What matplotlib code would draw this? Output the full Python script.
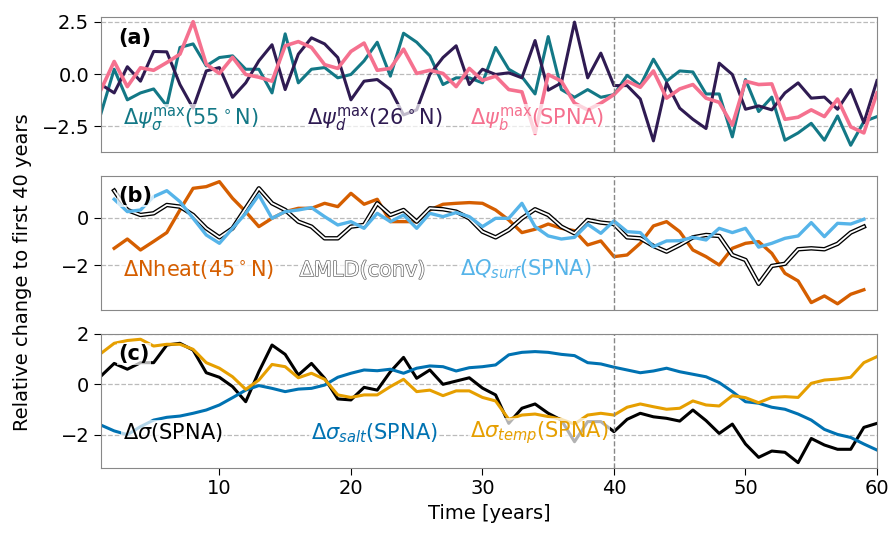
import numpy as np
import matplotlib
matplotlib.use('Agg')
import matplotlib.pyplot as plt
import matplotlib.patheffects as pe

# Years for each panel
years_a = np.arange(1, 61)
years_b = np.arange(2, 60)
years_c = np.arange(1, 61)

# --- Panel (a): overturning maxima ---
psi_sigma_55N = [-1.87, 0.23, -1.23, -0.90, -0.71, -1.52, 1.27, 1.44, 0.39, 0.79,
                 0.87, 0.23, 0.23, -0.90, 1.92, -0.42, 0.23, 0.31, -0.18, -0.02,
                 0.63, 1.52, -0.10, 1.95, 1.52, 0.87, -0.50, -0.18, -0.18, -0.42,
                 1.27, 0.23, -0.13, -0.95, 1.79, -0.74, -1.11, -0.74, -1.11, -0.98,
                 -0.06, -0.55, 0.71, -0.34, 0.15, 0.10, -0.95, -0.95, -3.00, -0.26,
                 -1.79, -1.10, -3.16, -2.81, -2.35, -3.16, -2.00, -3.40, -2.27, -2.03]
psi_d_26N = [-0.50, -0.90, 0.35, -0.34, 1.08, 1.06, -0.50, -1.63, 0.15, 0.31,
             -1.11, -0.42, 0.63, 1.40, -0.74, 0.95, 1.73, 1.44, 0.79, -1.23,
             -0.34, -0.26, -0.74, -1.95, -1.71, -0.02, 0.79, 1.35, -0.50, 0.23,
             -0.02, 0.06, -0.18, 1.60, -0.77, -0.42, 2.48, -0.18, 1.00, -0.55,
             -0.55, -1.19, -3.19, -0.42, -1.63, -2.16, -2.60, 0.52, -0.02, -1.68,
             -1.52, -1.71, -0.90, -0.42, -1.15, -1.10, -1.68, -0.74, -2.32, -0.31]
psi_b_spna = [-0.74, 0.60, -0.60, 0.30, 0.18, 0.55, 0.95, 2.50, 0.47, 0.03,
              0.80, -0.02, -0.15, -0.34, 1.35, 1.55, 1.27, 0.45, 0.27, 1.08,
              1.48, 0.18, 0.27, 1.19, 0.03, 0.18, 0.03, -0.60, 0.27, -0.30,
              -0.10, -0.74, -0.85, -2.84, -0.02, -0.34, -1.39, -1.71, -1.39, -0.98,
              -0.34, -0.63, 0.15, -1.15, -0.71, -0.50, -1.15, -1.35, -2.44, -0.34,
              -0.50, -0.47, -2.16, -2.06, -1.71, -2.03, -1.19, -2.52, -2.81, -0.90]

# --- Panel (b): heat transport, mixed layer depth, surface heat flux ---
nheat_45N = [-1.29, -0.90, -1.36, -1.00, -0.63, 0.32, 1.23, 1.30, 1.51, 0.81,
             0.25, -0.38, -0.03, 0.25, 0.39, 0.39, 0.60, 0.46, 1.02, 0.56,
             0.77, -0.17, -0.17, -0.17, 0.32, 0.56, 0.60, 0.63, 0.60, 0.32,
             -0.10, -0.63, -0.49, -0.27, -0.45, -0.55, -1.15, -0.98, -1.64, -1.57,
             -1.08, -0.35, -0.17, -0.59, -1.36, -1.64, -1.99, -1.29, -1.08, -1.01,
             -1.50, -2.34, -2.66, -3.57, -3.29, -3.62, -3.22, -3.03]
mld_conv = [1.13, 0.32, 0.11, 0.18, 0.53, 0.46, 0.11, -0.45, -0.83, -0.45,
            0.39, 1.23, 0.60, 0.32, -0.17, -0.38, -0.87, -0.87, -0.38, -0.31,
            0.60, 0.11, 0.32, -0.17, 0.39, 0.35, 0.25, -0.03, -0.59, -0.83,
            -0.52, -0.03, 0.35, 0.11, -0.38, -0.66, -0.10, -0.21, -0.27, -0.83,
            -0.87, -1.19, -1.43, -1.15, -0.83, -0.73, -0.77, -1.57, -1.78, -2.78,
            -2.03, -1.94, -1.33, -1.29, -1.33, -1.10, -0.63, -0.38]
q_surf = [0.77, 0.25, 0.32, 0.88, 1.13, 0.67, -0.03, -0.73, -1.08, -0.45,
          0.18, 0.95, -0.03, 0.25, 0.32, 0.42, 0.04, -0.31, -0.17, -0.45,
          0.18, -0.17, 0.11, -0.45, 0.18, 0.04, 0.21, 0.04, -0.38, -0.03,
          -0.03, 0.60, -0.38, -0.77, -0.90, -0.83, -0.28, -0.66, -0.14, -0.59,
          -0.63, -1.22, -0.98, -0.97, -0.83, -0.94, -0.45, -0.63, -0.45, -1.24,
          -1.08, -0.87, -0.77, -0.21, -0.80, -0.24, -0.27, -0.07]

# --- Panel (c): density and its salt / temperature parts ---
sigma_spna = [0.33, 0.83, 0.60, 0.86, 0.86, 1.56, 1.63, 1.36, 0.46, 0.28,
              -0.09, -0.69, 0.50, 1.56, 1.19, 0.37, 0.83, 0.24, -0.58, -0.62,
              -0.12, -0.23, 0.50, 1.07, 0.24, 0.57, 0.00, 0.13, 0.26, -0.15,
              -0.42, -1.55, -0.95, -0.78, -1.15, -1.42, -2.28, -1.48, -1.48, -1.88,
              -1.39, -1.15, -1.29, -1.35, -1.46, -1.02, -1.44, -1.95, -1.58, -2.37,
              -2.90, -2.65, -2.70, -3.11, -2.15, -2.41, -2.58, -2.58, -1.71, -1.55]
sigma_salt = [-1.62, -1.85, -2.00, -1.68, -1.42, -1.31, -1.26, -1.15, -1.02, -0.82,
              -0.53, -0.23, -0.05, -0.16, -0.29, -0.19, -0.16, -0.03, 0.28, 0.44,
              0.57, 0.54, 0.60, 0.44, 0.64, 0.73, 0.70, 0.53, 0.66, 0.70,
              0.77, 1.17, 1.27, 1.30, 1.27, 1.19, 1.14, 0.86, 0.81, 0.68,
              0.57, 0.46, 0.53, 0.64, 0.50, 0.40, 0.30, 0.07, -0.29, -0.69,
              -0.75, -0.91, -0.99, -1.18, -1.42, -1.79, -1.99, -2.11, -2.37, -2.61]
sigma_temp = [1.23, 1.63, 1.74, 1.79, 1.52, 1.59, 1.59, 1.39, 0.86, 0.64,
              0.30, -0.20, 0.17, 0.79, 0.70, 0.26, 0.44, 0.20, -0.42, -0.52,
              -0.42, -0.42, -0.09, 0.20, -0.29, -0.23, -0.45, -0.26, -0.26, -0.52,
              -0.66, -1.39, -1.22, -1.18, -1.28, -1.39, -1.58, -1.22, -1.15, -1.22,
              -0.91, -0.78, -0.89, -0.99, -0.95, -0.66, -0.82, -0.86, -0.45, -0.53,
              -0.73, -0.52, -0.49, -0.52, 0.04, 0.17, 0.21, 0.28, 0.86, 1.10]

plt.rcParams['font.family'] = 'DejaVu Sans'
plt.rcParams['font.size'] = 14

fig = plt.figure(figsize=(8.91, 5.34), dpi=100)
ax_a = fig.add_axes([0.1134, 0.7154, 0.8709, 0.2522])
ax_b = fig.add_axes([0.1134, 0.4195, 0.8709, 0.2515])
ax_c = fig.add_axes([0.1134, 0.1242, 0.8709, 0.2504])

box = dict(facecolor='white', edgecolor='none', alpha=0.7, pad=1)

# Panel (a)
ax_a.plot(years_a, psi_sigma_55N, color='#137886', lw=2.2)
ax_a.plot(years_a, psi_d_26N, color='#2f1b52', lw=2.2)
ax_a.plot(years_a, psi_b_spna, color='#f5718f', lw=2.6)
ax_a.set_ylim(-3.72, 2.71)
ax_a.set_yticks([-2.5, 0, 2.5])
ax_a.set_yticklabels(['\u22122.5', '0.0', '2.5'])
ax_a.text(0.028, 0.245, r'$\Delta\psi_\sigma^{\max}$(55$^\circ$N)', color='#137886',
          fontsize=15, va='center', transform=ax_a.transAxes, bbox=box)
ax_a.text(0.265, 0.245, r'$\Delta\psi_d^{\max}$(26$^\circ$N)', color='#2f1b52',
          fontsize=15, va='center', transform=ax_a.transAxes, bbox=box)
ax_a.text(0.475, 0.245, r'$\Delta\psi_b^{\max}$(SPNA)', color='#f5718f',
          fontsize=15, va='center', transform=ax_a.transAxes, bbox=box)
ax_a.text(0.022, 0.85, '(a)', fontweight='bold', fontsize=15, va='center',
          transform=ax_a.transAxes, bbox=box)

# Panel (b)
ax_b.plot(years_b, nheat_45N, color='#d55e00', lw=2.4)
ax_b.plot(years_b, mld_conv, color='white', lw=1.3,
          path_effects=[pe.Stroke(linewidth=3.2, foreground='black'), pe.Normal()])
ax_b.plot(years_b, q_surf, color='#56b4e9', lw=2.4)
ax_b.set_ylim(-3.88, 1.76)
ax_b.set_yticks([-2, 0])
ax_b.set_yticklabels(['\u22122', '0'])
ax_b.text(0.028, 0.30, r'$\Delta$Nheat(45$^\circ$N)', color='#d55e00',
          fontsize=15, va='center', transform=ax_b.transAxes, bbox=box)
ax_b.text(0.256, 0.30, r'$\Delta$MLD(conv)', color='white',
          fontsize=15, va='center', transform=ax_b.transAxes, bbox=box,
          path_effects=[pe.withStroke(linewidth=1.0, foreground='#666666')])
ax_b.text(0.463, 0.30, r'$\Delta Q_{surf}$(SPNA)', color='#56b4e9',
          fontsize=15, va='center', transform=ax_b.transAxes, bbox=box)
ax_b.text(0.022, 0.85, '(b)', fontweight='bold', fontsize=15, va='center',
          transform=ax_b.transAxes, bbox=box)

# Panel (c)
ax_c.plot(years_c, sigma_spna, color='black', lw=2.2)
ax_c.plot(years_c, sigma_salt, color='#0072b2', lw=2.2)
ax_c.plot(years_c, sigma_temp, color='#e69f00', lw=2.2)
ax_c.set_ylim(-3.31, 2.0)
ax_c.set_yticks([-2, 0, 2])
ax_c.set_yticklabels(['\u22122', '0', '2'])
ax_c.text(0.028, 0.26, r'$\Delta\sigma$(SPNA)', color='black',
          fontsize=15, va='center', transform=ax_c.transAxes, bbox=box)
ax_c.text(0.27, 0.26, r'$\Delta\sigma_{salt}$(SPNA)', color='#0072b2',
          fontsize=15, va='center', transform=ax_c.transAxes, bbox=box)
ax_c.text(0.475, 0.26, r'$\Delta\sigma_{temp}$(SPNA)', color='#e69f00',
          fontsize=15, va='center', transform=ax_c.transAxes, bbox=box)
ax_c.text(0.022, 0.85, '(c)', fontweight='bold', fontsize=15, va='center',
          transform=ax_c.transAxes, bbox=box)
ax_c.set_xlabel('Time [years]')

# Common y label for all three panels
fig.text(0.025, 0.49, 'Relative change to first 40 years', rotation=90,
         ha='center', va='center', fontsize=14)

# Shared styling
for ax in [ax_a, ax_b, ax_c]:
    ax.set_xlim(1, 60)
    ax.set_xticks([10, 20, 30, 40, 50, 60])
    ax.grid(axis='y', linestyle='--', color='#bbbbbb', lw=0.9)
    ax.axvline(40, color='#888888', linestyle='--', lw=1.0)
    ax.tick_params(direction='out', length=5, labelsize=14)
    for s in ax.spines.values():
        s.set_color('#888888')
    ax.set_axisbelow(True)

for ax in [ax_a, ax_b]:
    ax.tick_params(axis='x', bottom=False, labelbottom=False)

fig.savefig('out.png', dpi=100)
